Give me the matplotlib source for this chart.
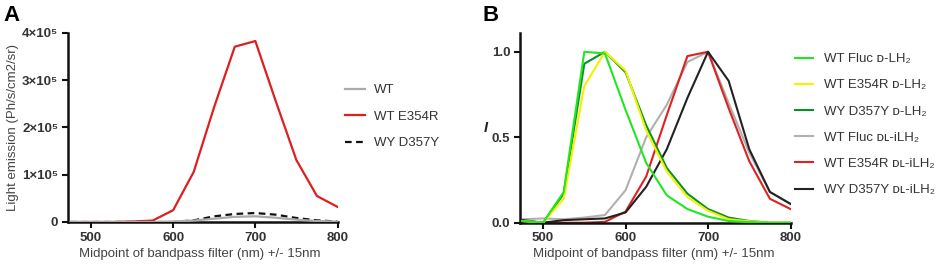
import matplotlib
matplotlib.use("Agg")
import matplotlib.pyplot as plt

plt.rcParams['font.family'] = ['Liberation Sans', 'DejaVu Sans']

# ---------------- data ----------------
wavelengths = [475, 500, 525, 550, 575, 600, 625, 650, 675, 700, 725, 750, 775, 800]

# Panel A: light emission (Ph/s/cm2/sr)
a_wt = [0, 0, 0, 0, 0, 1000, 3000, 7000, 11000, 12000, 9000, 5000, 2000, 1000]
a_e354r = [0, 0, 0, 1000, 3000, 25000, 106000, 244000, 371000, 383000, 255000, 131000, 55000, 32000]
a_d357y = [0, 0, 0, 0, 0, 0, 3500, 12000, 17000, 19000, 15500, 8500, 3500, 1000]
a_labels = ['WT', 'WT E354R', 'WY D357Y']
a_yticks = [0, 100000, 200000, 300000, 400000]
a_yticklabels = ['0', '1×10⁵', '2×10⁵', '3×10⁵', '4×10⁵']

# Panel B: normalised intensity
b_wt_d = [0.01, 0.0, 0.18, 1.0, 0.99, 0.66, 0.35, 0.16, 0.08, 0.035, 0.01, 0.003, 0.0, 0.0]
b_e354r_d = [0.01, 0.0, 0.14, 0.80, 1.0, 0.89, 0.54, 0.30, 0.15, 0.07, 0.02, 0.008, 0.0, 0.0]
b_d357y_d = [0.01, 0.0, 0.17, 0.93, 1.0, 0.88, 0.57, 0.32, 0.17, 0.08, 0.03, 0.01, 0.0, 0.0]
b_wt_dl = [0.02, 0.025, 0.02, 0.03, 0.045, 0.19, 0.50, 0.69, 0.94, 1.0, 0.70, 0.41, 0.18, 0.11]
b_e354r_dl = [0.005, 0.0, 0.0, 0.0, 0.005, 0.065, 0.27, 0.63, 0.975, 1.0, 0.67, 0.36, 0.14, 0.08]
b_d357y_dl = [0.015, 0.0, 0.015, 0.02, 0.025, 0.06, 0.21, 0.43, 0.73, 1.0, 0.83, 0.43, 0.18, 0.11]
b_labels = ['WT Fluc ᴅ-LH₂', 'WT E354R ᴅ-LH₂', 'WY D357Y ᴅ-LH₂',
            'WT Fluc ᴅʟ-iLH₂', 'WT E354R ᴅʟ-iLH₂', 'WY D357Y ᴅʟ-iLH₂']
b_yticks = [0.0, 0.5, 1.0]
b_yticklabels = ['0.0', '0.5', '1.0']

xticks = [500, 600, 700, 800]
xlabel = 'Midpoint of bandpass filter (nm) +/- 15nm'

# ---------------- figure ----------------
fig = plt.figure(figsize=(9.41, 2.70), dpi=100)
axA = fig.add_axes([68 / 941, 48 / 270, 269.5 / 941, 189 / 270])
axB = fig.add_axes([520 / 941, 47.3 / 270, 270.5 / 941, 189.7 / 270])

tick_col = '#333333'
lab_col = '#444444'


def style(ax):
    for s in ['top', 'right']:
        ax.spines[s].set_visible(False)
    for s in ['left', 'bottom']:
        ax.spines[s].set_linewidth(1.8)
        ax.spines[s].set_color('#111111')
    ax.tick_params(direction='out', length=4, width=1.5, colors='#111111',
                   labelcolor=tick_col, labelsize=9.5, pad=3)
    for lab in ax.get_xticklabels() + ax.get_yticklabels():
        lab.set_fontweight('bold')
    ax.set_xlim(472, 800)


# Panel A
axA.plot(wavelengths, a_e354r, color='#dd1f1f', lw=1.6, label=a_labels[1], zorder=2)
axA.plot(wavelengths, a_d357y, color='#111111', lw=1.6, ls=(0, (3, 2)), label=a_labels[2], zorder=2.5)
axA.plot(wavelengths, a_wt, color='#aaaaaa', lw=1.6, label=a_labels[0], zorder=3)
axA.set_ylim(0, 400000)
axA.set_xticks(xticks)
axA.set_yticks(a_yticks)
axA.set_yticklabels(a_yticklabels)
style(axA)
axA.set_xlabel(xlabel, fontsize=9.5, color=lab_col)
axA.xaxis.set_label_coords(0.49, -0.135)
axA.set_ylabel('Light emission (Ph/s/cm2/sr)', fontsize=9.5, color=lab_col)
axA.yaxis.set_label_coords(-0.182, 0.5)
hA, lA = axA.get_legend_handles_labels()
order = [lA.index(l) for l in a_labels]
axA.legend([hA[i] for i in order], [lA[i] for i in order],
           loc='upper left', bbox_to_anchor=(1.028, 0.73), frameon=False,
           borderaxespad=0, borderpad=0,
           fontsize=9.5, handlelength=1.5, handletextpad=0.7, labelspacing=1.08,
           labelcolor='#333333')

# Panel B
b_series = [b_wt_d, b_e354r_d, b_d357y_d, b_wt_dl, b_e354r_dl, b_d357y_dl]
b_colors = ['#22e622', '#f2f200', '#0a8f2a', '#b0b0b0', '#dd2222', '#222222']
b_z = [3.5, 3.2, 3.0, 2.0, 2.2, 2.4]
for ys, c, lab, z in zip(b_series, b_colors, b_labels, b_z):
    axB.plot(wavelengths, ys, color=c, lw=1.5, label=lab, zorder=z)
axB.set_ylim(0, 1.11)
axB.set_xticks(xticks)
axB.set_yticks(b_yticks)
axB.set_yticklabels(b_yticklabels)
style(axB)
axB.set_xlabel(xlabel, fontsize=9.5, color=lab_col)
axB.xaxis.set_label_coords(0.495, -0.135)
axB.set_ylabel('I', fontsize=10.5, color='#222222', rotation=0, fontstyle='italic',
               fontweight='bold', va='center')
axB.yaxis.set_label_coords(-0.125, 0.5)
axB.legend(loc='upper left', bbox_to_anchor=(1.017, 0.895), frameon=False,
           borderaxespad=0, borderpad=0,
           fontsize=9.5, handlelength=1.36, handletextpad=0.83, labelspacing=1.06,
           labelcolor='#333333')

fig.text(3 / 941, 1 - 5 / 270, 'A', fontsize=16, fontweight='bold', va='top', ha='left')
fig.text(483 / 941, 1 - 5 / 270, 'B', fontsize=16, fontweight='bold', va='top', ha='left')

fig.savefig('out.png', dpi=100)
